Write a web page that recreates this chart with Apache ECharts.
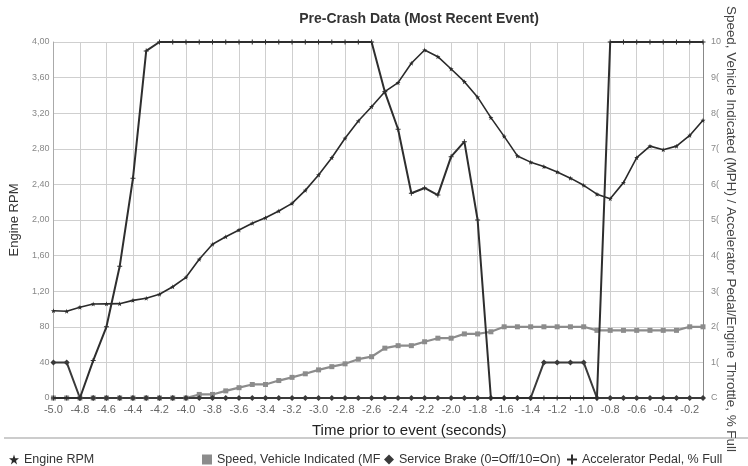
<!DOCTYPE html>
<html><head><meta charset="utf-8">
<script src="https://cdn.jsdelivr.net/npm/echarts@6/dist/echarts.min.js"></script>
<style>html,body{margin:0;padding:0;background:#fff}#c{width:748px;height:466px}</style>
</head><body><div id="c"></div>
<script>
var times = [-5.0,-4.9,-4.8,-4.7,-4.6,-4.5,-4.4,-4.3,-4.2,-4.1,-4.0,-3.9,-3.8,-3.7,-3.6,-3.5,-3.4,-3.3,-3.2,-3.1,-3.0,-2.9,-2.8,-2.7,-2.6,-2.5,-2.4,-2.3,-2.2,-2.1,-2.0,-1.9,-1.8,-1.7,-1.6,-1.5,-1.4,-1.3,-1.2,-1.1,-1.0,-0.9,-0.8,-0.7,-0.6,-0.5,-0.4,-0.3,-0.2,-0.1];
var engineRPM = [980,975,1020,1056,1058,1060,1097,1120,1165,1250,1356,1558,1727,1812,1888,1963,2026,2101,2187,2333,2506,2700,2918,3112,3273,3442,3543,3761,3910,3835,3697,3554,3380,3150,2940,2720,2650,2600,2540,2470,2390,2290,2240,2420,2700,2830,2790,2830,2950,3120];
var speed = [0,0,0,0,0,0,0,0,0,0,0,1,1,2,2.9,3.8,3.8,4.9,5.8,6.8,7.9,8.8,9.6,10.9,11.6,14,14.7,14.7,15.8,16.8,16.8,18,18,18.6,20,20,20,20,20,20,20,19,19,19,19,19,19,19,20,20];
var brake = [10,10,0,0,0,0,0,0,0,0,0,0,0,0,0,0,0,0,0,0,0,0,0,0,0,0,0,0,0,0,0,0,0,0,0,0,0,10,10,10,10,0,0,0,0,0,0,0,0,0];
var accel = [0,0,0,10.5,20,37,61.7,97.5,100,100,100,100,100,100,100,100,100,100,100,100,100,100,100,100,100,86,75.5,57.5,59,57,67.8,72,50,0,0,0,0,0,0,0,0,0,100,100,100,100,100,100,100,100];
var leftTickLabels = {0:'0',400:'40',800:'80',1200:'1,20',1600:'1,60',2000:'2,00',2400:'2,40',2800:'2,80',3200:'3,20',3600:'3,60',4000:'4,00'};
var rightTickLabels = {0:'C',10:'1(',20:'2(',30:'3(',40:'4(',50:'5(',60:'6(',70:'7(',80:'8(',90:'9(',100:'10'};

function pairs(vals){ return times.map(function(t,i){ return [t, vals[i]]; }); }
var FONT = 'Liberation Sans, Arial, sans-serif';
var chart = echarts.init(document.getElementById('c'), null, {renderer:'canvas'});
var seriesNames = ['Engine RPM','Speed, Vehicle Indicated (MPH)','Service Brake (0=Off/10=On)','Accelerator Pedal, % Full'];
var STAR = 'path://M5,0 L6.2,3.8 L10,3.8 L7,6.2 L8.1,10 L5,7.6 L1.9,10 L3,6.2 L0,3.8 L3.8,3.8 Z';
var CROSS = 'path://M4,0 L6,0 L6,4 L10,4 L10,6 L6,6 L6,10 L4,10 L4,6 L0,6 L0,4 L4,4 Z';
function leg(name, left, icon){
  return {data:[{name:name, icon:icon}], left:left, top:448, itemWidth:10, itemHeight:10, itemGap:4,
    textStyle:{fontFamily:FONT, fontSize:12.5, color:'#333'},
    formatter:function(n){ return n==='Speed, Vehicle Indicated (MPH)' ? 'Speed, Vehicle Indicated (MF' : n; }};
}
chart.setOption({
  animation:false,
  backgroundColor:'#fff',
  title:{text:'Pre-Crash Data (Most Recent Event)', left:414, textAlign:'center', top:7,
    textStyle:{fontFamily:FONT, fontSize:14, fontWeight:'bold', color:'#333'}},
  legend:[
    leg(seriesNames[0], 4, STAR),
    leg(seriesNames[1], 197, 'rect'),
    leg(seriesNames[2], 379, 'diamond'),
    leg(seriesNames[3], 562, CROSS)
  ],
  grid:{left:47, right:45, top:42, bottom:68},
  xAxis:{type:'value', min:-5.0, max:-0.1, interval:0.2,
    axisLine:{show:true, onZero:false, lineStyle:{color:'#999'}},
    axisTick:{show:false},
    axisLabel:{showMaxLabel:false, fontFamily:FONT, fontSize:11, color:'#666', margin:6,
      formatter:function(v){ return v.toFixed(1); }},
    splitLine:{show:true, lineStyle:{color:'#cfcfcf', width:1}}
  },
  yAxis:[
    {type:'value', min:0, max:4000, interval:400, position:'left',
     name:'Engine RPM', nameLocation:'middle', nameGap:31, nameRotate:90,
     nameTextStyle:{fontFamily:FONT, fontSize:13, color:'#333'},
     axisLine:{show:true, lineStyle:{color:'#aaa'}}, axisTick:{show:false},
     axisLabel:{fontFamily:FONT, fontSize:9, color:'#888', margin:4, formatter:function(v){ return leftTickLabels[v]; }},
     splitLine:{show:true, lineStyle:{color:'#cfcfcf', width:1}}},
    {type:'value', min:0, max:100, interval:10, position:'right',
     axisLine:{show:true, lineStyle:{color:'#888'}}, axisTick:{show:false},
     axisLabel:{fontFamily:FONT, fontSize:9, color:'#888', margin:8, formatter:function(v){ return rightTickLabels[v]; }},
     splitLine:{show:false}}
  ],
  graphic:[
    {type:'line', shape:{x1:4, y1:438, x2:748, y2:438}, style:{stroke:'#bbb', lineWidth:1.5}},
    {type:'text', left:312, top:423, style:{text:'Time prior to event (seconds)', font:'15px Liberation Sans, Arial, sans-serif', fill:'#222'}},
    {type:'text', x:731, y:229, rotation:-Math.PI/2,
     style:{text:'Speed, Vehicle Indicated (MPH) / Accelerator Pedal/Engine Throttle, % Full', font:'13.4px Liberation Sans, Arial, sans-serif', fill:'#444', align:'center', verticalAlign:'middle'}}
  ],
  series:[
    {name:seriesNames[0], type:'line', yAxisIndex:0, data:pairs(engineRPM),
     symbol:STAR, symbolSize:5,
     lineStyle:{color:'#2a2a2a', width:1.6}, itemStyle:{color:'#2a2a2a'}, z:4},
    {name:seriesNames[1], type:'line', yAxisIndex:1, data:pairs(speed),
     symbol:'rect', symbolSize:5, lineStyle:{color:'#8c8c8c', width:2.2}, itemStyle:{color:'#8c8c8c'}, z:3},
    {name:seriesNames[2], type:'line', yAxisIndex:1, data:pairs(brake),
     symbol:'diamond', symbolSize:6, lineStyle:{color:'#3a3a3a', width:2}, itemStyle:{color:'#3a3a3a'}, z:3},
    {name:seriesNames[3], type:'line', yAxisIndex:1, data:pairs(accel),
     symbol:CROSS, symbolSize:5,
     lineStyle:{color:'#2e2e2e', width:2}, itemStyle:{color:'#2e2e2e'}, z:4}
  ]
});
</script></body></html>
